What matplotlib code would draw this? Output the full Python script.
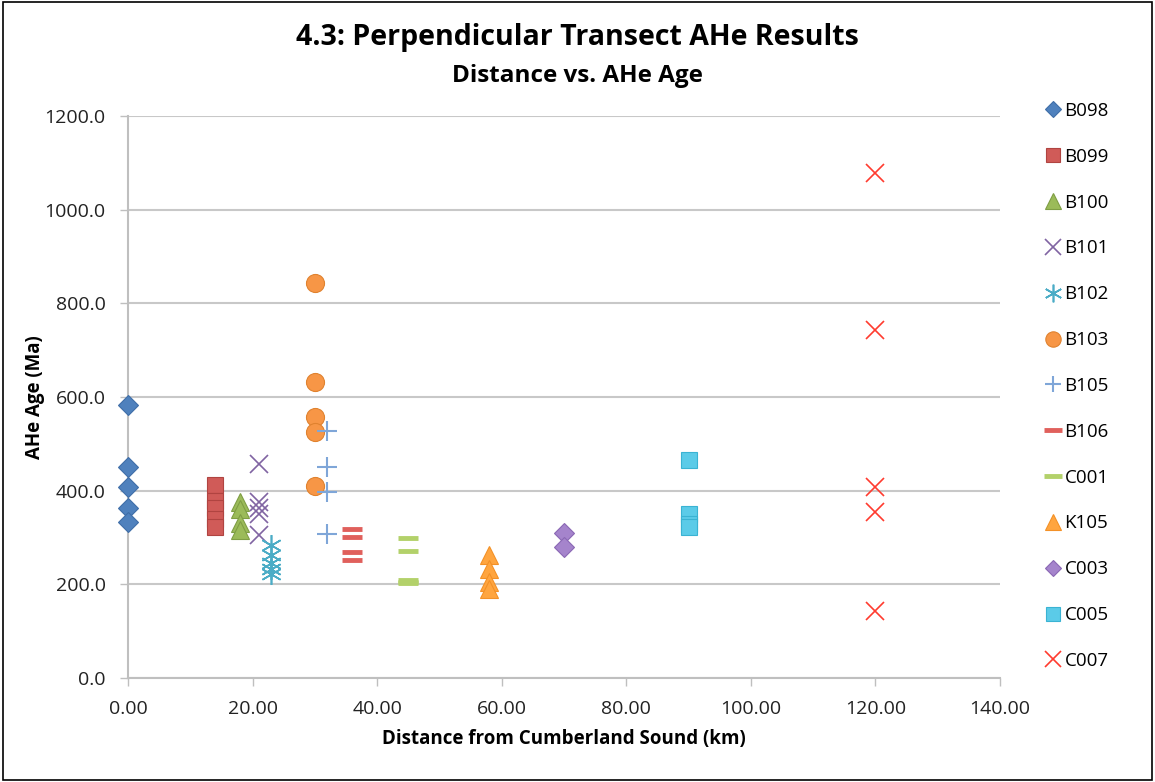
import matplotlib
matplotlib.use("Agg")
import matplotlib.pyplot as plt
from matplotlib.patches import Rectangle

plt.rcParams['font.family'] = ['Open Sans', 'DejaVu Sans']

# Sample names, distances (km) and AHe ages (Ma)
samples = ["B098", "B099", "B100", "B101", "B102", "B103", "B105",
           "B106", "C001", "K105", "C003", "C005", "C007"]
distance_km = [0.0, 14.0, 18.0, 21.0, 23.0, 30.0, 32.0,
               36.0, 45.0, 58.0, 70.0, 90.0, 120.0]
age_B098 = [583, 451, 408, 362, 334]
age_B099 = [412, 378, 362, 340, 322]
age_B100 = [376, 360, 330, 316]
age_B101 = [457, 375, 364, 350, 305]
age_B102 = [283, 262, 245, 232, 222]
age_B103 = [843, 632, 558, 525, 410]
age_B105 = [527, 451, 397, 308]
age_B106 = [318, 302, 270, 252]
age_C001 = [300, 272, 210, 206, 202]
age_K105 = [263, 233, 205, 190]
age_C003 = [309, 279]
age_C005 = [466, 351, 328, 322]
age_C007 = [1078, 744, 407, 354, 142]
ages = [age_B098, age_B099, age_B100, age_B101, age_B102, age_B103, age_B105,
        age_B106, age_C001, age_K105, age_C003, age_C005, age_C007]

x_ticks = [0, 20, 40, 60, 80, 100, 120, 140]
y_ticks = [0, 200, 400, 600, 800, 1000, 1200]

# marker, face colour, edge colour, size, edge width
styles = {
    "B098": dict(marker="D", mfc="#4F81BD", mec="#3F6EA8", ms=10, mew=0.8),
    "B099": dict(marker="s", mfc="#D05B58", mec="#B04441", ms=12, mew=0.8),
    "B100": dict(marker="^", mfc="#9BBB59", mec="#7F9E44", ms=13, mew=0.8),
    "B101": dict(marker="x", mfc="none", mec="#8064A2", ms=13, mew=1.2),
    "B102": dict(marker=(6, 2, 0), mfc="none", mec="#4BACC6", ms=15, mew=1.2),
    "B103": dict(marker="o", mfc="#F79646", mec="#E0822F", ms=13, mew=0.8),
    "B105": dict(marker="+", mfc="none", mec="#7FA6D8", ms=14, mew=1.5),
    "B106": dict(marker="_", mfc="none", mec="#E0605C", ms=15, mew=3.5),
    "C001": dict(marker="_", mfc="none", mec="#B3D16A", ms=15, mew=3.5),
    "K105": dict(marker="^", mfc="#FFA53F", mec="#F39127", ms=13, mew=0.8),
    "C003": dict(marker="D", mfc="#A584CC", mec="#8A68B4", ms=10, mew=0.8),
    "C005": dict(marker="s", mfc="#5BCBE8", mec="#3AB3D3", ms=12, mew=0.8),
    "C007": dict(marker="x", mfc="none", mec="#FF3B2F", ms=13, mew=1.2),
}

fig = plt.figure(figsize=(11.55, 7.82), dpi=100)
fig.patch.set_facecolor("white")
fig.patches.append(Rectangle((0.003, 0.003), 0.994, 0.994, transform=fig.transFigure,
                             fill=False, edgecolor="black", linewidth=1.2))

ax = fig.add_axes([128 / 1155, 1 - 678 / 782, 872 / 1155, 562 / 782])

for name, d, a in zip(samples, distance_km, ages):
    ax.plot([d] * len(a), a, linestyle="none", label=name, clip_on=False,
            zorder=3, **styles[name])

ax.set_xlim(0, 140)
ax.set_ylim(0, 1200)
ax.set_xticks(x_ticks)
ax.set_xticklabels([f"{v:.2f}" for v in x_ticks])
ax.set_yticks(y_ticks)
ax.set_yticklabels([f"{v:.1f}" for v in y_ticks])
ax.tick_params(axis="both", labelsize=14, labelcolor="#222222", length=6,
               width=1, direction="out", color="#BFBFBF")
ax.tick_params(axis="y", pad=10)
ax.tick_params(axis="x", pad=10)
ax.grid(axis="y", color="#C8C8C8", linewidth=1.5)
ax.set_axisbelow(True)
for side in ("top", "right"):
    ax.spines[side].set_visible(False)
for side in ("left", "bottom"):
    ax.spines[side].set_color("#BFBFBF")
    ax.spines[side].set_linewidth(1.5)

ax.set_xlabel("Distance from Cumberland Sound (km)", fontsize=13.5,
              fontweight="bold", labelpad=8)
ax.set_ylabel("AHe Age (Ma)", fontsize=13.5, fontweight="bold", labelpad=0)

fig.text(0.5, 1 - 38 / 782, "4.3: Perpendicular Transect AHe Results",
         ha="center", va="center", fontsize=20.5, fontweight="bold")
fig.text(0.5, 1 - 76 / 782, "Distance vs. AHe Age",
         ha="center", va="center", fontsize=17.5, fontweight="bold")

leg = fig.legend(loc="upper left", bbox_to_anchor=(1028 / 1155, 1 - 85 / 782),
                 frameon=False, fontsize=13.5, numpoints=1, handlelength=0.9,
                 handletextpad=0.15, labelspacing=1.485, markerscale=0.85)

fig.savefig("out.png", dpi=100)
